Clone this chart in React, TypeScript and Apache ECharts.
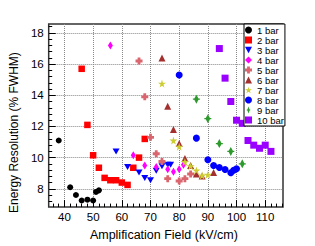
import React, { useEffect, useRef } from "react";
import * as echarts from "echarts";

const SERIES_NAMES = ["1 bar", "2 bar", "3 bar", "4 bar", "5 bar", "6 bar", "7 bar", "8 bar", "9 bar", "10 bar"];

const bar1X = [38, 42, 44, 46, 48, 50, 51, 52];
const bar1Y = [11.1, 8.1, 7.6, 7.25, 7.3, 7.25, 7.8, 7.9];
const bar2X = [46, 48, 50, 52, 54, 56, 58, 60, 62, 64, 66, 68];
const bar2Y = [15.7, 12.1, 10.15, 9.35, 8.7, 8.55, 8.55, 8.4, 8.25, 9.35, 10.0, 11.2];
const bar3X = [58, 62, 66, 68, 70, 72, 74, 76, 77];
const bar3Y = [10.4, 9.4, 9.05, 8.7, 8.55, 9.15, 9.45, 9.55, 9.55];
const bar4X = [56, 64, 68, 72, 76, 78, 80, 81.5];
const bar4Y = [17.2, 10.15, 9.5, 9.4, 9.25, 9.1, 9.25, 9.55];
const bar5X = [66, 68, 70, 72, 74, 76, 80, 82, 84];
const bar5Y = [16.2, 13.9, 11.3, 10.25, 9.75, 8.65, 8.5, 8.65, 8.95];
const bar6X = [74, 76, 78, 80, 82, 84, 86, 88, 92];
const bar6Y = [16.4, 13.3, 11.8, 10.9, 9.95, 9.5, 8.95, 8.82, 9.05];
const bar7X = [74, 78, 80, 82, 84, 86, 88, 90];
const bar7Y = [14.75, 11.1, 10.7, 9.72, 9.45, 9.18, 8.85, 8.9];
const bar8X = [80, 86, 90, 92, 94, 96, 98, 99, 100];
const bar8Y = [15.3, 11.25, 9.86, 9.5, 9.37, 9.24, 9.03, 9.19, 9.28];
const bar9X = [86, 90, 94, 98, 102];
const bar9Y = [13.75, 12.5, 10.9, 10.4, 9.6];
const bar10X = [94, 96, 98, 100, 102, 104, 106, 108, 110, 112];
const bar10Y = [17.0, 15.1, 13.6, 12.4, 12.2, 11.1, 10.8, 10.6, 10.8, 10.4];

const X_MAJOR = [40, 50, 60, 70, 80, 90, 100, 110];
const X_MINOR = [36, 38, 42, 44, 46, 48, 52, 54, 56, 58, 62, 64, 66, 68, 72, 74, 76, 78, 82, 84, 86, 88, 92, 94, 96, 98, 102, 104, 106, 108, 112, 114, 116];
const Y_MAJOR = [8, 10, 12, 14, 16, 18];
const Y_MINOR = [7.2, 7.6, 8.4, 8.8, 9.2, 9.6, 10.4, 10.8, 11.2, 11.6, 12.4, 12.8, 13.2, 13.6, 14.4, 14.8, 15.2, 15.6, 16.4, 16.8, 17.2, 17.6, 18.4];

const XS = [bar1X, bar2X, bar3X, bar4X, bar5X, bar6X, bar7X, bar8X, bar9X, bar10X];
const YS = [bar1Y, bar2Y, bar3Y, bar4Y, bar5Y, bar6Y, bar7Y, bar8Y, bar9Y, bar10Y];

const COLORS = ["#000000", "#ff0000", "#0000ff", "#ff00ff", "#d9666e", "#a3302f", "#cccc33", "#0000ff", "#2e9a2e", "#9900ff"];
const STAR = "path://M50,0 L61,35 L98,35 L68,57 L79,91 L50,70 L21,91 L32,57 L2,35 L39,35 Z";
const PLUS = "path://M3,0 L7,0 L7,3 L10,3 L10,7 L7,7 L7,10 L3,10 L3,7 L0,7 L0,3 L3,3 Z";
const TRI_DOWN = "path://M0,0 L10,0 L5,9 Z";
const DIAM_CROSS = "path://M5,0 L8,8.5 L10,8.5 L10,11.5 L8,11.5 L5,20 L2,11.5 L0,11.5 L0,8.5 L2,8.5 Z";
const SYMBOLS = ["circle", "rect", TRI_DOWN, "diamond", PLUS, "triangle", STAR, "circle", DIAM_CROSS, "rect"];
const SIZES: any[] = [6, 6.5, [7, 6], [5, 8], 7, 7, 8, 7, [7, 9], 7];

const XMIN = 34.5, XMAX = 116.2, YMIN = 6.825, YMAX = 18.575;
const FONT = "Liberation Sans";

export default function App() {
  const ref = useRef<HTMLDivElement>(null);
  useEffect(() => {
    if (!ref.current) return;
    const chart = echarts.init(ref.current, null, { renderer: "svg" });
    const tickLine = { color: "#000", width: 1 };
    const grid = { type: "dotted", color: "#888", width: 1 };
    chart.setOption({
      animation: false,
      backgroundColor: "#fff",
      grid: { left: 41, top: 24, width: 242, height: 190, show: true, borderColor: "#333", borderWidth: 1.5, backgroundColor: "transparent" },
      legend: {
        orient: "vertical",
        left: 244,
        top: 24,
        itemWidth: 7,
        itemHeight: 7,
        itemGap: 0,
        padding: [1, 1, 1, 1],
        backgroundColor: "#fff",
        borderColor: "#000",
        borderWidth: 1,
        textStyle: { fontFamily: FONT, fontSize: 9.5, color: "#000", lineHeight: 10 },
        data: SERIES_NAMES,
      },
      xAxis: [
        {
          type: "value", min: XMIN, max: XMAX, position: "bottom",
          axisLine: { show: false },
          axisTick: { inside: true, length: 7, customValues: X_MAJOR, lineStyle: tickLine },
          axisLabel: { customValues: X_MAJOR, margin: 4, fontFamily: FONT, fontSize: 11.5, color: "#000" },
          splitLine: { show: true, lineStyle: grid },
          name: "Amplification Field (kV/cm)", nameLocation: "middle", nameGap: 19,
          nameTextStyle: { fontFamily: FONT, fontSize: 12.5, color: "#000", padding: [0, 4, 0, 0] },
        },
        {
          type: "value", min: XMIN, max: XMAX, position: "bottom",
          axisLine: { show: false },
          axisTick: { inside: true, length: 3.5, customValues: X_MINOR, lineStyle: tickLine },
          axisLabel: { show: false },
          splitLine: { show: false },
        },
      ],
      yAxis: [
        {
          type: "value", min: YMIN, max: YMAX, position: "left",
          axisLine: { show: false },
          axisTick: { inside: true, length: 7, customValues: Y_MAJOR, lineStyle: tickLine },
          axisLabel: { customValues: Y_MAJOR, margin: 5, fontFamily: FONT, fontSize: 11.5, color: "#000" },
          splitLine: { show: true, lineStyle: grid },
          name: "Energy Resolution (% FWHM)", nameLocation: "middle", nameGap: 21,
          nameTextStyle: { fontFamily: FONT, fontSize: 12, color: "#000", padding: [0, 34, 0, 0] },
        },
        {
          type: "value", min: YMIN, max: YMAX, position: "left",
          axisLine: { show: false },
          axisTick: { inside: true, length: 3.5, customValues: Y_MINOR, lineStyle: tickLine },
          axisLabel: { show: false },
          splitLine: { show: false },
        },
      ],
      series: SERIES_NAMES.map((name, i) => ({
        name,
        type: "scatter",
        xAxisIndex: 0,
        yAxisIndex: 0,
        symbol: SYMBOLS[i],
        symbolSize: SIZES[i],
        itemStyle: { color: COLORS[i], opacity: 1 },
        data: XS[i].map((x, j) => [x, YS[i][j]]),
        z: 3,
      })),
    });
    return () => chart.dispose();
  }, []);
  return <div ref={ref} style={{ width: 315, height: 246, position: "absolute", left: 0, top: 0 }} />;
}
